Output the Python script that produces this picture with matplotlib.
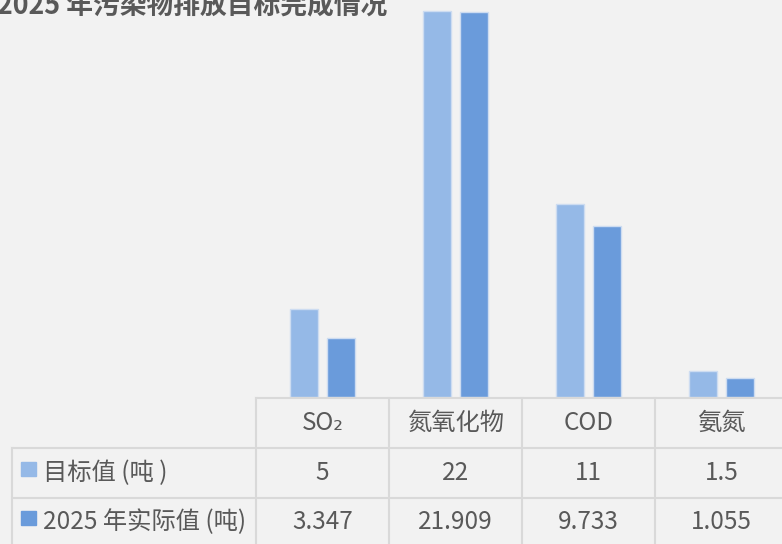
import matplotlib
matplotlib.use("Agg")
import matplotlib.pyplot as plt
from matplotlib.lines import Line2D

plt.rcParams['font.family'] = ['Noto Sans CJK SC', 'DejaVu Sans']

title = "2025 年污染物排放目标完成情况"
categories = ["SO₂", "氮氧化物", "COD", "氨氮"]
series_names = ["目标值 (吨 )", "2025 年实际值 (吨)"]
target = [5, 22, 11, 1.5]
actual = [3.347, 21.909, 9.733, 1.055]
target_labels = ["5", "22", "11", "1.5"]
actual_labels = ["3.347", "21.909", "9.733", "1.055"]

W, H = 782, 544
BG = "#f2f2f2"
C1 = "#95b9e7"
C2 = "#6a9bdb"
TXT = "#595959"
GRID = "#d9d9d9"

fig = plt.figure(figsize=(W / 100, H / 100), dpi=100, facecolor=BG)

def fx(px):
    return px / W

def fy(py):
    return 1 - py / H

# bar axes
left_px, right_px, base_px = 256, 788, 397
ymax = 25
px_per_unit = 17.55
ax_h = ymax * px_per_unit
ax = fig.add_axes([fx(left_px), fy(base_px), (right_px - left_px) / W, ax_h / H])
ax.set_facecolor(BG)
ax.patch.set_alpha(0)
x = list(range(len(categories)))
bw = 0.21
off = 0.137
ax.bar([i - off for i in x], target, width=bw, color=C1, edgecolor="#cddcf1", linewidth=1)
ax.bar([i + off for i in x], actual, width=bw, color=C2, edgecolor="#cddcf1", linewidth=1)
ax.set_xlim(-0.5, len(categories) - 0.5)
ax.set_ylim(0, ymax)
ax.axis("off")

# title
fig.text(fx(-3), fy(13), title, fontsize=19.3, fontweight="bold", color=TXT,
         ha="left", va="baseline")

# table lines
def hline(y, x0, x1):
    fig.add_artist(Line2D([fx(x0), fx(x1)], [fy(y), fy(y)], color=GRID, lw=1.5))

def vline(x0, y0, y1):
    fig.add_artist(Line2D([fx(x0), fx(x0)], [fy(y0), fy(y1)], color=GRID, lw=1.5))

row_tops = [398, 448, 498, 548]
col_edges = [256, 389, 522, 655, 788]
hline(row_tops[0], 256, 790)
hline(row_tops[1], 12, 790)
hline(row_tops[2], 12, 790)
vline(12, row_tops[1], 550)
for ce in col_edges[:-1]:
    vline(ce, row_tops[0], 550)

col_centers = [(col_edges[i] + col_edges[i + 1]) / 2 for i in range(4)]
row_centers = [423, 473, 522]
fs = 17.5
for i, c in enumerate(categories):
    fig.text(fx(col_centers[i]), fy(row_centers[0]), c, fontsize=fs, color=TXT,
             ha="center", va="center")
for i, v in enumerate(target_labels):
    fig.text(fx(col_centers[i]), fy(row_centers[1]), v, fontsize=fs, color=TXT,
             ha="center", va="center")
for i, v in enumerate(actual_labels):
    fig.text(fx(col_centers[i]), fy(row_centers[2]), v, fontsize=fs, color=TXT,
             ha="center", va="center")

# legend keys + row labels
for r, (name, col) in enumerate(zip(series_names, [C1, C2])):
    cy = row_centers[r + 1]
    fig.patches.append(plt.Rectangle((fx(21), fy(cy + 3)), 15 / W, 14 / H,
                                     transform=fig.transFigure, color=col))
    fig.text(fx(43), fy(cy), name, fontsize=fs, color=TXT, ha="left", va="center")

fig.savefig("out.png", dpi=100, facecolor=BG)
